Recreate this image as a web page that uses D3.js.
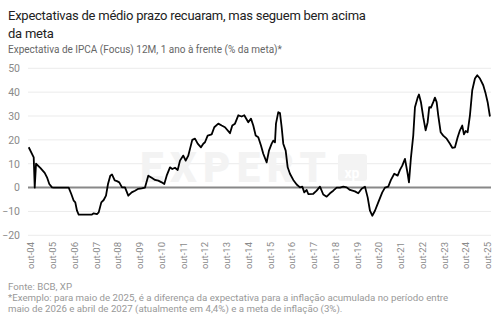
<!DOCTYPE html>
<html><head><meta charset="utf-8">
<script src="https://cdn.jsdelivr.net/npm/d3@7"></script>
<style>
body{margin:0;background:#fff}
svg{display:block;font-family:Roboto,"Noto Sans",sans-serif}
</style>
</head><body>
<svg id="c" width="501" height="335"></svg>
<script>
// Decimal year of each vertex and value (% above inflation target)
const years = [2004.663,2004.893,2004.939,2005.000,2005.196,2005.398,2005.504,2005.610,2005.734,2005.812,
2006.502,2006.621,2006.732,2006.805,2006.883,2006.961,2007.573,2007.651,2007.803,2007.881,
2008.001,2008.111,2008.217,2008.309,2008.414,2008.492,2008.617,2008.722,2008.828,2008.952,
2009.090,2009.242,2009.398,2009.550,2009.702,2009.858,2010.010,2010.161,2010.318,2010.470,
2010.621,2010.778,2010.897,2011.007,2011.159,2011.265,2011.389,2011.513,2011.619,2011.771,
2011.881,2012.001,2012.184,2012.309,2012.433,2012.584,2012.690,2012.768,2012.892,2013.076,
2013.196,2013.380,2013.536,2013.688,2013.918,2014.024,2014.148,2014.300,2014.456,2014.575,
2014.759,2014.883,2014.989,2015.099,2015.219,2015.343,2015.449,2015.605,2015.711,2015.835,
2015.909,2015.987,2016.033,2016.139,2016.217,2016.294,2016.368,2016.479,2016.571,2016.676,
2016.828,2016.984,2017.136,2017.242,2017.334,2017.444,2017.518,2017.748,2017.904,2018.056,
2018.207,2018.364,2018.516,2018.667,2018.823,2018.975,2019.127,2019.283,2019.434,2019.664,
2019.816,2019.972,2020.124,2020.249,2020.355,2020.461,2020.584,2020.736,2020.920,2021.045,
2021.196,2021.320,2021.472,2021.628,2021.734,2021.840,2021.964,2022.088,2022.148,2022.240,
2022.345,2022.423,2022.547,2022.607,2022.699,2022.805,2022.915,2023.007,2023.080,2023.159,
2023.264,2023.342,2023.421,2023.494,2023.605,2023.724,2023.881,2024.033,2024.139,2024.263,
2024.387,2024.492,2024.598,2024.676,2024.754,2024.846,2024.952,2025.058,2025.182,2025.288,
2025.412,2025.564,2025.674,2025.766,2025.871];
const values = [16.9,12.7,0,10,8.3,6.2,4.3,1.5,0.1,0,
0,-2.7,-5.5,-6.2,-9.7,-11.3,-11.3,-10.8,-11.1,-10.4,
-6.2,-5.2,-3.4,1.5,5,5.5,3,2.7,2.2,0.1,
0.1,-3.4,-2,-1.3,-0.5,-0.3,0,5,4.1,3.2,
2.9,2.2,1.5,5,8.5,7.8,8.3,7.4,11.3,13.4,
11.3,13.4,20,20.5,18.4,16.9,18.4,19,21.8,22.3,
25.3,26.8,26,25.3,22.8,26,26.8,30.3,29.8,30.3,
27.4,28.9,26,21.8,21.1,17.6,14.2,10.6,15.5,18.4,
19.7,19,26.8,31.6,31.2,25.3,18.4,15.5,8.5,5.8,
3.2,1.3,0.1,0.4,-2,-1,-2.7,-2.6,-1.3,0.4,
-2.9,-3.8,-2.4,-1.3,0,0,0.4,0.1,-1,-1.6,
-2.4,-0.5,0.4,-4.1,-9.7,-11.8,-9.7,-6.2,-2,0,
0.4,3.2,5.8,5,7.4,9.2,12,5.8,2.2,12.7,
21.8,33.7,37.7,39,35.8,29.5,24,27.4,33.7,33.5,
35.8,37.7,35.8,30.3,23.2,21.8,20.5,18.4,16.7,16.9,
21.1,24,26,22.3,23.7,23.2,30.3,40.8,45.7,47.1,
45.7,42.9,39.4,35.8,29.8];

const tickYears = d3.range(2004, 2026).map(y => y + 0.75);
const tickLabels = ["out-04","out-05","out-06","out-07","out-08","out-09","out-10","out-11","out-12","out-13","out-14",
"out-15","out-16","out-17","out-18","out-19","out-20","out-21","out-22","out-23","out-24","out-25"];
const yTicks = [-20,-10,0,10,20,30,40,50];

const titleLines = ["Expectativas de médio prazo recuaram, mas seguem bem acima","da meta"];
const subtitle = "Expectativa de IPCA (Focus) 12M, 1 ano à frente (% da meta)*";
const footLines = ["Fonte: BCB, XP",
"*Exemplo: para maio de 2025, é a diferença da expectativa para a inflação acumulada no período entre",
"maio de 2026 e abril de 2027 (atualmente em 4,4%) e a meta de inflação (3%)."];

const svg = d3.select("#c");
const x = d3.scaleLinear().domain([2004.75, 2025.75]).range([30.6, 487.3]);
const y = d3.scaleLinear().domain([-20, 50]).range([235.3, 68.3]);
const plotL = 28, plotR = 491;

// titles
svg.append("g").selectAll("text").data(titleLines).join("text")
  .attr("x", 8).attr("y", (d,i) => 20 + i*17.5)
  .attr("font-size", 13).attr("fill", "#222").attr("letter-spacing", -0.25)
  .text(d => d);
svg.append("text").attr("x", 8).attr("y", 53).attr("font-size", 10)
  .attr("fill", "#666").text(subtitle);

// gridlines
svg.append("g").selectAll("line").data(yTicks.filter(d => d !== 0)).join("line")
  .attr("x1", plotL).attr("x2", plotR)
  .attr("y1", d => y(d)).attr("y2", d => y(d))
  .attr("stroke", "#ebebeb").attr("stroke-width", 1);

// watermark
const wm = svg.append("g").attr("fill", "#f3f3f3");
wm.append("text").attr("x", 140).attr("y", 182).attr("font-size", 42).attr("font-weight", 900)
  .attr("textLength", 186).attr("lengthAdjust", "spacing").text("EXPERT");
wm.append("rect").attr("x", 338).attr("y", 154).attr("width", 29).attr("height", 27).attr("rx", 3);
svg.append("text").attr("x", 352).attr("y", 178).attr("text-anchor", "middle")
  .attr("font-size", 14).attr("font-weight", 700).attr("fill", "#fff").text("xp");

// y axis labels
const yAxis = d3.axisLeft(y).tickValues(yTicks).tickSize(0).tickPadding(0);
const gy = svg.append("g").attr("transform", "translate(20,0)").call(yAxis);
gy.select(".domain").remove();
gy.selectAll("text").attr("font-size", 10.5).attr("fill", "#8a8a8a").attr("font-family", "Roboto, sans-serif");

// zero line
svg.append("line").attr("x1", plotL).attr("x2", plotR).attr("y1", y(0)).attr("y2", y(0))
  .attr("stroke", "#888").attr("stroke-width", 2);

// x axis labels
const xAxis = d3.axisBottom(x).tickValues(tickYears).tickSize(0).tickPadding(0)
  .tickFormat((d,i) => tickLabels[i]);
const gx = svg.append("g").attr("transform", "translate(0,242)").call(xAxis);
gx.select(".domain").remove();
gx.selectAll("text").attr("font-size", 9.5).attr("fill", "#8a8a8a").attr("font-family", "Roboto, sans-serif")
  .attr("text-anchor", "end").attr("transform", "rotate(-90)").attr("dx", 0).attr("dy", "0.35em").attr("y", 0);

// line
const data = years.map((t,i) => ({t, v: values[i]}));
svg.append("path").datum(data)
  .attr("d", d3.line().x(d => x(d.t)).y(d => y(d.v)))
  .attr("fill", "none").attr("stroke", "#000").attr("stroke-width", 1.8).attr("stroke-linejoin", "round");

// footer
svg.append("g").selectAll("text").data(footLines).join("text")
  .attr("x", 8).attr("y", (d,i) => 290 + i*11)
  .attr("font-size", 9.7).attr("fill", "#999").text(d => d);
</script>
</body></html>
